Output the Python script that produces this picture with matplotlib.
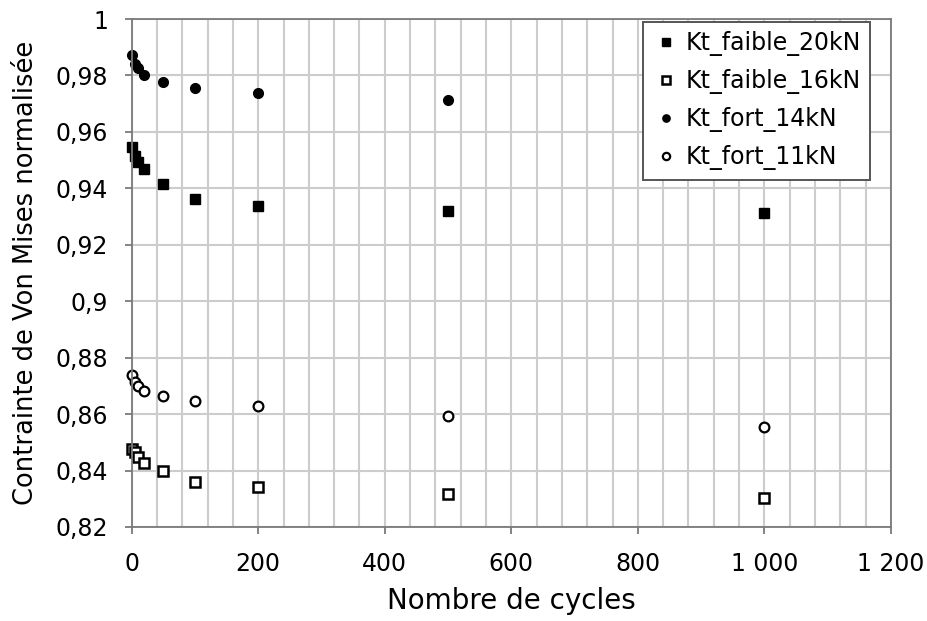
import numpy as np
import matplotlib.pyplot as plt
from matplotlib.ticker import FuncFormatter, MultipleLocator

# nombre de cycles
cycles = [1, 5, 10, 20, 50, 100, 200, 500, 1000]
cycles_fort14 = [1, 5, 10, 20, 50, 100, 200, 500]

# contrainte normalisée
kt_faible_20 = [0.9545, 0.9513, 0.9492, 0.9467, 0.9414, 0.9363, 0.9336, 0.9321, 0.9312]
kt_faible_16 = [0.8475, 0.8465, 0.8447, 0.8426, 0.8398, 0.8360, 0.8340, 0.8318, 0.8304]
kt_fort_14 = [0.9873, 0.9841, 0.9827, 0.9801, 0.9776, 0.9757, 0.9738, 0.9712]
kt_fort_11 = [0.8737, 0.8712, 0.8698, 0.8682, 0.8664, 0.8648, 0.8630, 0.8595, 0.8553]

xticks = [0, 200, 400, 600, 800, 1000, 1200]
yticks = [0.82, 0.84, 0.86, 0.88, 0.90, 0.92, 0.94, 0.96, 0.98, 1.0]

fig = plt.figure(figsize=(9.28, 6.21), dpi=100)
ax = fig.add_axes([0.1419, 0.1514, 0.8182, 0.818])

ms = 7
ax.plot(cycles, kt_faible_20, 's', color='black', ms=ms, clip_on=False, label='Kt_faible_20kN')
ax.plot(cycles, kt_faible_16, 's', mfc='white', mec='black', mew=1.8, ms=ms, clip_on=False,
        label='Kt_faible_16kN')
ax.plot(cycles_fort14, kt_fort_14, 'o', color='black', ms=ms, clip_on=False, label='Kt_fort_14kN')
ax.plot(cycles, kt_fort_11, 'o', mfc='white', mec='black', mew=1.6, ms=ms, clip_on=False,
        label='Kt_fort_11kN')

ax.set_xlim(0, 1200)
ax.set_ylim(0.82, 1.0)
ax.set_xticks(xticks)
ax.set_yticks(yticks)
ax.xaxis.set_minor_locator(MultipleLocator(40))


def fmt_x(v, pos):
    return f"{int(round(v)):,}".replace(",", " ")


def fmt_y(v, pos):
    s = f"{v:.2f}".rstrip("0").rstrip(".")
    return s.replace(".", ",")


ax.xaxis.set_major_formatter(FuncFormatter(fmt_x))
ax.yaxis.set_major_formatter(FuncFormatter(fmt_y))

ax.grid(True, which='both', axis='x', color='#cccccc', lw=1.5)
ax.grid(True, which='major', axis='y', color='#cccccc', lw=1.5)
ax.set_axisbelow(True)
for sp in ax.spines.values():
    sp.set_color('#7a7a7a')
    sp.set_linewidth(1.3)
ax.tick_params(which='major', direction='out', length=5, width=1.3, color='#7a7a7a',
               labelsize=17)
ax.tick_params(axis='y', pad=12)
ax.tick_params(axis='x', pad=13)
ax.tick_params(which='minor', length=0)

ax.set_xlabel("Nombre de cycles", fontsize=20, labelpad=8)
ax.set_ylabel("Contrainte de Von Mises normalisée", fontsize=18.5, labelpad=12)

leg = ax.legend(loc='upper right', bbox_to_anchor=(870 / 928, 1 - 22 / 621),
                bbox_transform=fig.transFigure, borderaxespad=0,
                fontsize=17, frameon=True, fancybox=False,
                edgecolor='#555555', framealpha=1, markerscale=0.75,
                handletextpad=0.2, handlelength=1.2, labelspacing=0.55,
                borderpad=0.4)
leg.get_frame().set_linewidth(1.4)

fig.savefig("out.png", dpi=100)
